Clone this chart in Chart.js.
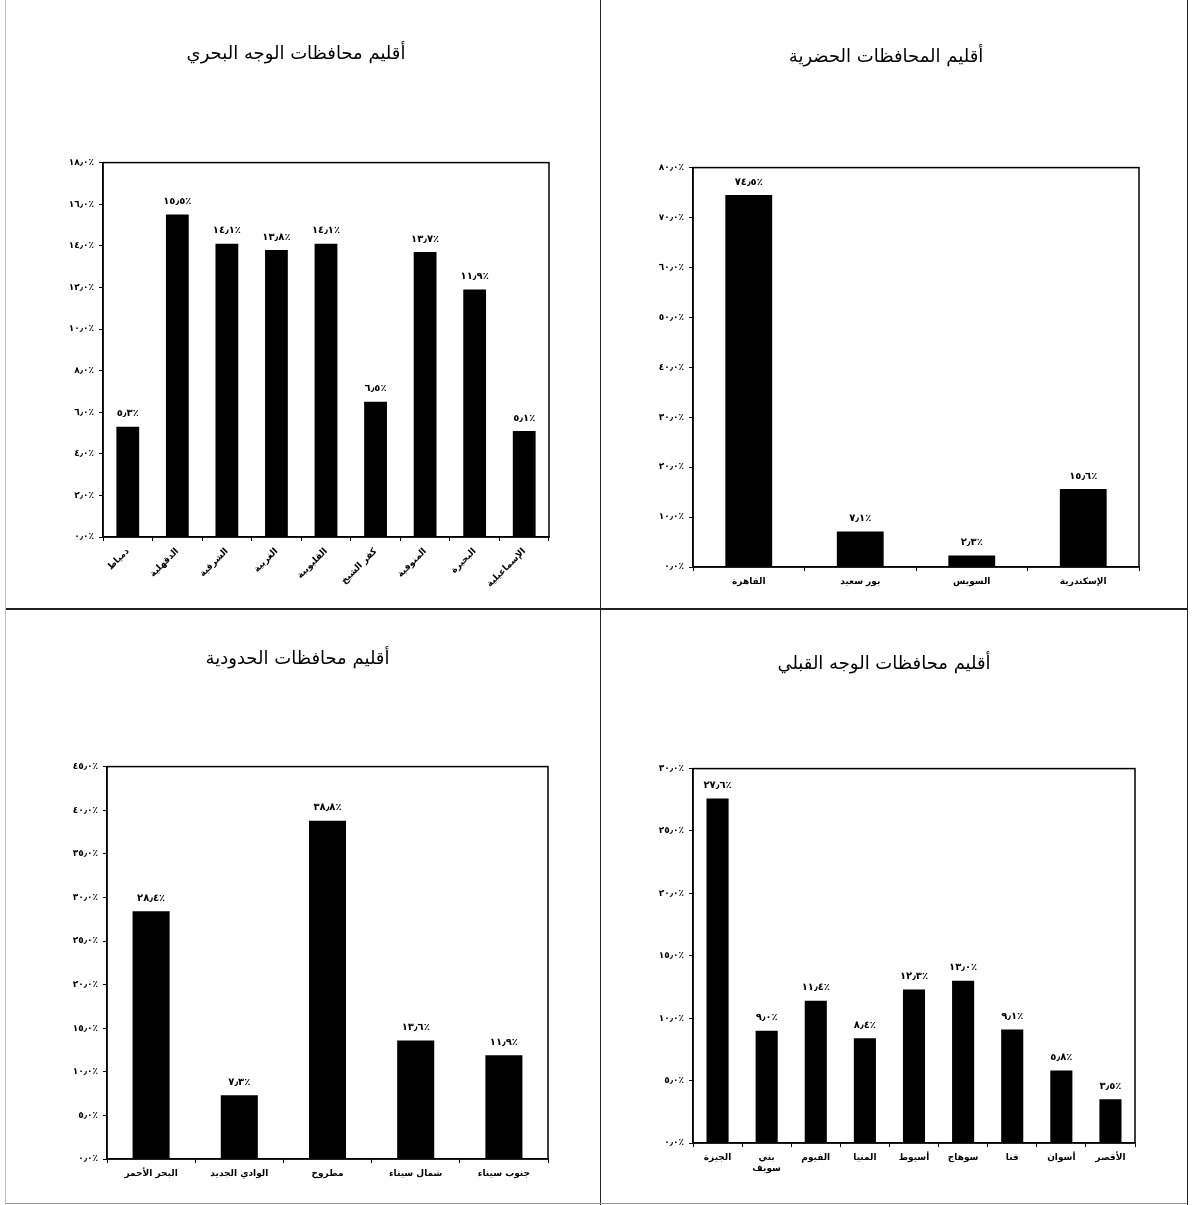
<!DOCTYPE html>
<html>
<head>
<meta charset="utf-8">
<script src="https://cdn.jsdelivr.net/npm/chart.js@4.4.1/dist/chart.umd.min.js"></script>
<style>
  body { margin: 0; background: #fff; }
  .page { position: relative; width: 1193px; height: 1205px; overflow: hidden; }
  .panel { position: absolute; }
  .line { position: absolute; background: #222; }
</style>
</head>
<body>
<div class="page">
  <div class="panel" style="left:0;top:0;width:600px;height:608px"><canvas id="delta"></canvas></div>
  <div class="panel" style="left:601px;top:0;width:592px;height:608px"><canvas id="urban"></canvas></div>
  <div class="panel" style="left:0;top:610px;width:600px;height:595px"><canvas id="border"></canvas></div>
  <div class="panel" style="left:601px;top:610px;width:592px;height:595px"><canvas id="upper"></canvas></div>

  <div class="line" style="left:600px;top:0;width:1px;height:1205px"></div>
  <div class="line" style="left:6px;top:608px;width:1181px;height:2px"></div>
  <div class="line" style="left:5px;top:0;width:1px;height:1205px;background:#bbb"></div>
  <div class="line" style="left:1187px;top:0;width:1px;height:1205px"></div>
  <div class="line" style="left:6px;top:1203px;width:1181px;height:1px;background:#999"></div>
</div>

<script>
// الوجه البحري
const deltaLabels = ['دمياط', 'الدقهلية', 'الشرقية', 'الغربية', 'القليوبية', 'كفر الشيخ', 'المنوفية', 'البحيرة', 'الإسماعيلية'];
const deltaValues = [5.3, 15.5, 14.1, 13.8, 14.1, 6.5, 13.7, 11.9, 5.1];

// المحافظات الحضرية
const urbanLabels = ['القاهرة', 'بور سعيد', 'السويس', 'الإسكندرية'];
const urbanValues = [74.5, 7.1, 2.3, 15.6];

// المحافظات الحدودية
const borderLabels = ['البحر الأحمر', 'الوادي الجديد', 'مطروح', 'شمال سيناء', 'جنوب سيناء'];
const borderValues = [28.4, 7.3, 38.8, 13.6, 11.9];

// الوجه القبلي
const upperLabels = ['الجيزة', ['بني', 'سويف'], 'الفيوم', 'المنيا', 'أسيوط', 'سوهاج', 'قنا', 'أسوان', 'الأقصر'];
const upperValues = [27.6, 9.0, 11.4, 8.4, 12.3, 13.0, 9.1, 5.8, 3.5];

const FONT = 'DejaVu Sans';

function ar(v) {
  return v.toFixed(1).replace(/[0-9]/g, d => '٠١٢٣٤٥٦٧٨٩'[d]).replace('.', '٫') + '٪';
}

// frame round the plot + value labels over bars
const framePlugin = {
  id: 'frame',
  afterDatasetsDraw(chart) {
    const ctx = chart.ctx;
    const a = chart.chartArea;
    ctx.save();
    ctx.strokeStyle = '#000';
    ctx.lineWidth = 1.5;
    ctx.strokeRect(a.left, a.top, a.right - a.left, a.bottom - a.top);

    ctx.fillStyle = '#000';
    ctx.font = 'bold 10px ' + FONT;
    ctx.textAlign = 'center';
    ctx.textBaseline = 'bottom';
    const meta = chart.getDatasetMeta(0);
    const vals = chart.data.datasets[0].data;
    meta.data.forEach((bar, i) => {
      ctx.fillText(ar(vals[i]), bar.x, bar.y - 8);
    });
    ctx.restore();
  }
};

function makeChart(id, o) {
  return new Chart(document.getElementById(id), {
    type: 'bar',
    data: {
      labels: o.labels,
      datasets: [{
        data: o.values,
        backgroundColor: '#000',
        borderWidth: 0,
        categoryPercentage: 1,
        barPercentage: o.bar
      }]
    },
    options: {
      responsive: true,
      maintainAspectRatio: false,
      animation: false,
      devicePixelRatio: 1,
      layout: { padding: o.pad },
      plugins: {
        legend: { display: false },
        tooltip: { enabled: false },
        title: {
          display: true,
          text: o.title,
          color: '#000',
          font: { family: FONT, size: 18, weight: 'normal', lineHeight: 1.2 },
          padding: o.titlePad
        }
      },
      scales: {
        x: {
          grid: { display: true, drawOnChartArea: false, tickLength: 4, color: '#000', offset: true },
          border: { color: '#000', width: 1.5 },
          ticks: {
            color: '#000',
            font: { family: FONT, size: 9, weight: 'bold' },
            minRotation: o.rot,
            maxRotation: o.rot,
            autoSkip: false,
            padding: 5
          },
          afterFit(s) { s.height = o.xh; }
        },
        y: {
          min: 0,
          max: o.max,
          grid: { display: true, drawOnChartArea: false, tickLength: 4, color: '#000' },
          border: { color: '#000', width: 1.5 },
          ticks: {
            stepSize: o.step,
            color: '#000',
            font: { family: FONT, size: 9, weight: 'bold' },
            padding: 5,
            callback: v => ar(v)
          },
          afterFit(s) { s.width = 60; }
        }
      }
    },
    plugins: [framePlugin]
  });
}

makeChart('delta', {
  title: 'أقليم محافظات الوجه البحري',
  labels: deltaLabels, values: deltaValues,
  max: 18, step: 2, bar: 0.46, rot: 45, xh: 50,
  pad: { left: 43, right: 51, top: 0, bottom: 21 },
  titlePad: { top: 44, bottom: 97 }
});

makeChart('urban', {
  title: 'أقليم المحافظات الحضرية',
  labels: urbanLabels, values: urbanValues,
  max: 80, step: 10, bar: 0.42, rot: 0, xh: 25,
  pad: { left: 32, right: 54, top: 0, bottom: 16 },
  titlePad: { top: 47, bottom: 99 }
});

makeChart('border', {
  title: 'أقليم محافظات الحدودية',
  labels: borderLabels, values: borderValues,
  max: 45, step: 5, bar: 0.42, rot: 0, xh: 25,
  pad: { left: 47, right: 52, top: 0, bottom: 21 },
  titlePad: { top: 39, bottom: 96 }
});

makeChart('upper', {
  title: 'أقليم محافظات الوجه القبلي',
  labels: upperLabels, values: upperValues,
  max: 30, step: 5, bar: 0.45, rot: 0, xh: 40,
  pad: { left: 32, right: 58, top: 0, bottom: 22 },
  titlePad: { top: 44, bottom: 93 }
});
</script>
</body>
</html>
